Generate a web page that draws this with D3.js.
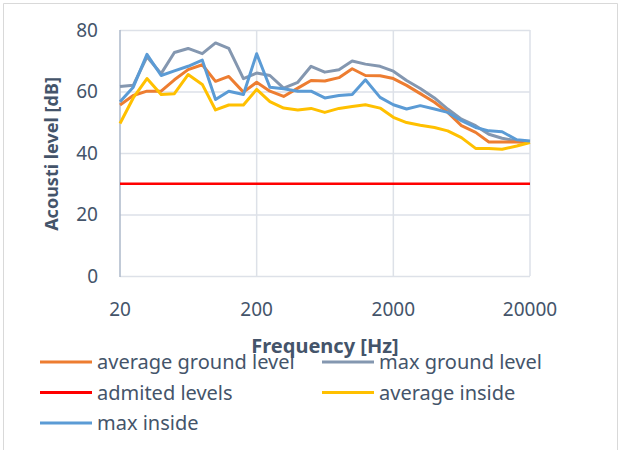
<!DOCTYPE html>
<html>
<head>
<meta charset="utf-8">
<script src="https://cdnjs.cloudflare.com/ajax/libs/d3/7.8.5/d3.min.js"></script>
<style>
  body { margin: 0; background: #fff; }
  text { font-family: "Noto Sans", sans-serif; fill: #44546a; }
</style>
</head>
<body>
<div id="chart"></div>
<script>
// 1/3 octave band centre frequencies
const freqs = [20, 25, 31.5, 40, 50, 63, 80, 100, 125, 160, 200, 250, 315, 400, 500, 630, 800, 1000,
               1250, 1600, 2000, 2500, 3150, 4000, 5000, 6300, 8000, 10000, 12500, 16000, 20000];
const avgGround = [55.6, 58.7, 60.1, 60.1, 63.8, 67.1, 68.7, 63.3, 64.9, 59.8, 63, 60.1, 58.4, 61.1, 63.6, 63.4,
                   64.5, 67.4, 65.2, 65.1, 64.2, 62, 59.3, 56.5, 53.2, 48.9, 46.7, 43.6, 43.6, 43.6, 43.4];
const maxGround = [61.6, 62, 71.3, 65.8, 72.7, 74, 72.3, 75.8, 74, 64.2, 66, 65.2, 61.1, 63, 68.2, 66.3,
                   67.1, 69.9, 68.9, 68.2, 66.6, 63.6, 61, 57.9, 54.3, 51, 48.9, 46.1, 44.8, 43.9, 43.7];
const admitted = [30, 30, 30, 30, 30, 30, 30, 30, 30, 30, 30, 30, 30, 30, 30, 30,
                  30, 30, 30, 30, 30, 30, 30, 30, 30, 30, 30, 30, 30, 30, 30];
const avgInside = [49.6, 57.9, 64.2, 59, 59.3, 65.5, 62.3, 54, 55.6, 55.6, 60.7, 56.7, 54.6, 54, 54.5, 53.2,
                   54.5, 55.1, 55.7, 54.6, 51.6, 49.9, 49, 48.3, 47.2, 45, 41.5, 41.5, 41.2, 42.3, 43.4];
const maxInside = [56.7, 61.4, 72.1, 65.2, 66.7, 68.2, 70.2, 57.4, 60.1, 59, 72.3, 61.4, 60.9, 60.1, 60.1, 57.9,
                   58.7, 59, 63.8, 58.1, 55.7, 54.3, 55.4, 54.3, 53.2, 50.5, 48.3, 47.2, 46.9, 44.3, 43.9];
const xTicks = [20, 200, 2000, 20000];
const yTicks = [0, 20, 40, 60, 80];

const series = [
  {name: "average ground level", values: avgGround, color: "#ED7D31", w: 3},
  {name: "max ground level", values: maxGround, color: "#8497B0", w: 3},
  {name: "admited levels", values: admitted, color: "#FF0000", w: 2.5},
  {name: "average inside", values: avgInside, color: "#FFC000", w: 3},
  {name: "max inside", values: maxInside, color: "#5B9BD5", w: 3}
];
// draw order: red first, then others as in picture
const drawOrder = [2, 1, 0, 3, 4];

const W = 619, H = 450;
const svg = d3.select("#chart").append("svg").attr("width", W).attr("height", H);

// outer chart frame
svg.append("path")
  .attr("d", "M3.5,460 V3.5 H617.5 V460")
  .attr("fill", "none").attr("stroke", "#d9d9d9");

const x = d3.scaleLog().domain([20, 20000]).range([120, 530]);
const y = d3.scaleLinear().domain([0, 80]).range([276, 30]);

// horizontal gridlines
svg.append("g").selectAll("line").data(yTicks).join("line")
  .attr("x1", x(20)).attr("x2", x(20000))
  .attr("y1", d => y(d) + 0.5).attr("y2", d => y(d) + 0.5)
  .attr("stroke", "#dde1e8").attr("stroke-width", 1.5);

// vertical gridlines
svg.append("g").selectAll("line").data(xTicks.slice(1)).join("line")
  .attr("x1", d => x(d)).attr("x2", d => x(d))
  .attr("y1", y(80)).attr("y2", y(0))
  .attr("stroke", "#dde1e8").attr("stroke-width", 1.5);

// y axis line
svg.append("line")
  .attr("x1", x(20)).attr("x2", x(20)).attr("y1", y(80)).attr("y2", y(0) + 1)
  .attr("stroke", "#adb8ca").attr("stroke-width", 1.5);

// tick labels
svg.append("g").selectAll("text").data(yTicks).join("text")
  .attr("x", 98).attr("y", d => y(d)).attr("dy", "0.36em")
  .attr("text-anchor", "end").attr("font-size", 19)
  .text(d => d);

svg.append("g").selectAll("text").data(xTicks).join("text")
  .attr("x", d => x(d)).attr("y", 316)
  .attr("text-anchor", "middle").attr("font-size", 19)
  .text(d => d);

// axis titles
svg.append("text")
  .attr("transform", "translate(52,154) rotate(-90)")
  .attr("text-anchor", "middle").attr("dy", "0.36em")
  .attr("font-size", 18).attr("font-weight", "bold")
  .text("Acousti level [dB]");

svg.append("text")
  .attr("x", 325).attr("y", 353)
  .attr("text-anchor", "middle")
  .attr("font-size", 20).attr("font-weight", "bold")
  .text("Frequency [Hz]");

// lines
const line = d3.line()
  .x((d, i) => x(freqs[i]))
  .y(d => y(d));

svg.append("g").selectAll("path").data(drawOrder.map(i => series[i])).join("path")
  .attr("d", d => line(d.values))
  .attr("fill", "none")
  .attr("stroke", d => d.color)
  .attr("stroke-width", d => d.w)
  .attr("stroke-linejoin", "round");

// legend
const leg = svg.append("g").selectAll("g").data(series).join("g")
  .attr("transform", (d, i) => `translate(${i % 2 ? 322 : 40},${362 + Math.floor(i / 2) * 30.5})`);
leg.append("line")
  .attr("x1", 0).attr("x2", 52)
  .attr("stroke", d => d.color).attr("stroke-width", 3);
leg.append("text")
  .attr("x", 57).attr("dy", "0.36em").attr("font-size", 20)
  .text(d => d.name);
</script>
</body>
</html>
